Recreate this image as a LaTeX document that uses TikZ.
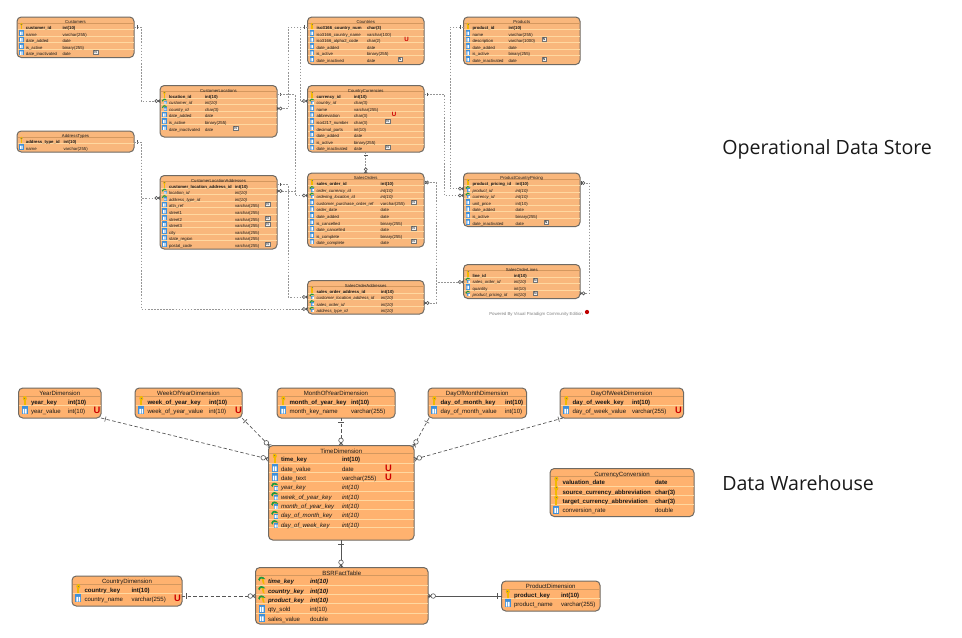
\documentclass[tikz,border=0pt]{standalone}
\usepackage{fontspec}
\setmainfont{Liberation Sans}
\newfontfamily\lblfont{Open Sans}
\usetikzlibrary{calc}
\pgfdeclarelayer{boxes}
\pgfdeclarelayer{lines}
\pgfsetlayers{boxes,lines,main}
\AtBeginDocument{\catcode`\_=12 }
\definecolor{topfill}{HTML}{F9B77C}
\definecolor{botfill}{HTML}{FFB26F}
\definecolor{bordc}{HTML}{6F6A63}
\definecolor{rowc}{HTML}{FFD8A0}
\definecolor{sepc}{HTML}{D4985F}
\definecolor{markc}{HTML}{555555}
\definecolor{relc}{HTML}{969696}
\definecolor{keyc}{HTML}{F2B900}
\definecolor{colc}{HTML}{3F8FD8}
\definecolor{fkc}{HTML}{1E9A3C}
\tikzset{
  tblbox/.style={draw=bordc,line width=0.75,rounded corners=3.2,inner sep=0,outer sep=0},
  rowline/.style={draw=rowc,line width=0.45},
  sepline/.style={draw=sepc,line width=0.45},
  cell/.style={anchor=mid west,inner sep=0,outer sep=0,text=black!90},
  titletext/.style={anchor=mid,inner sep=0,outer sep=0,text=black!90},
  flagU/.style={inner sep=0,text=red!80!black,font=\fontsize{\usize}{\usize}\selectfont\bfseries},
  flagN/.style={inner sep=0,draw=black!55,fill=black!6,line width=0.3,minimum size=\nsize,font=\fontsize{\nfont}{\nfont}\selectfont},
  toprel/.style={draw=relc,line width=0.42,dash pattern=on 1.2 off 1.1},
  botrel/.style={draw=markc,line width=0.5,dash pattern=on 2.6 off 1.7},
  botsolid/.style={draw=markc,line width=0.6},
  mstart/.style={pos=0,sloped,allow upside down},
  mend/.style={pos=1,sloped,allow upside down},
  tm/.style={scale=0.68},
  markline/.style={solid,draw=markc,line width=0.45},
  pics/barS/.style={code={\draw[markline] (4.5,-2.6) -- (4.5,2.6);}},
  pics/oneZeroS/.style={code={
    \draw[markline] (2,-2.6) -- (2,2.6);
    \draw[markline,fill=white] (5,0) circle (2.3);}},
  pics/crowE/.style={code={
    \draw[markline] (0,-2.2) -- (-3,0) -- (0,2.2) (0,0) -- (-3,0);
    \draw[markline,fill=white] (-5.2,0) circle (2.3);}},
  pics/ick/.style={code={
    \fill[keyc] (-0.9,-1) rectangle (0.9,4.6);
    \fill[keyc] (0,-2.4) ellipse (2 and 2.4);
    \fill[black!55] (-0.5,-3.3) rectangle (0.5,-2.5);}},
  pics/icc/.style={code={
    \fill[colc] (-3,-3.8) rectangle (3,4.2);
    \fill[white] (-1.9,-1.4) rectangle (-0.4,3.4) (0.4,-1.4) rectangle (1.9,3.4);}},
  pics/icf/.style={code={
    \fill[colc] (-1,-0.8) rectangle (3.6,4.4);
    \fill[white] (-0.2,0.8) rectangle (1,3.8) (1.6,0.8) rectangle (2.8,3.8);
    \fill[fkc] (-3.6,-0.8) .. controls (-2.6,-4.4) and (1,-4.6) .. (3.6,-1.2) -- (1.6,-1.4) .. controls (0,-2.4) and (-1.8,-2.2) .. (-2.3,0.8) -- cycle;}},
  pics/icb/.style={code={
    \fill[keyc] (-0.2,-1.6) -- (1.8,-1.6) -- (2.8,4.2) -- (1,3) -- cycle;
    \fill[fkc] (-3.6,-0.8) .. controls (-2.6,-4.4) and (1,-4.6) .. (3.6,-1.2) -- (1.6,-1.4) .. controls (0,-2.4) and (-1.8,-2.2) .. (-2.3,0.8) -- cycle;}},
}
\def\rsk{\bfseries}\def\rsc{}\def\rsf{\itshape}\def\rsb{\bfseries\itshape}
\newcommand\topmode{%
  \gdef\stp{6.6}\gdef\fst{9}\gdef\ttl{3.2}\gdef\sepy{5.8}%
  \gdef\ndx{9}\gdef\idx{4.4}\gdef\icsc{0.7}\gdef\tblfill{topfill}%
  \gdef\rfs{3.2pt}\gdef\usize{4.6pt}\gdef\nsize{3.4pt}\gdef\nfont{2.6pt}}
\newcommand\botmode{%
  \gdef\stp{9.35}\gdef\fst{12.8}\gdef\ttl{4.2}\gdef\sepy{7.8}%
  \gdef\ndx{12.5}\gdef\idx{6.3}\gdef\icsc{1}\gdef\tblfill{botfill}%
  \gdef\rfs{4.55pt}\gdef\usize{7pt}\gdef\nsize{4pt}\gdef\nfont{3pt}}
% name, x1, y1, x2, y2, title, type x
\newcommand\ertbl[7]{%
  \begin{pgfonlayer}{boxes}
  \node[tblbox,fill=\tblfill,minimum width={(#4-#2)*0.75pt},minimum height={(#5-#3)*0.75pt}] (#1) at ({(#2+#4)/2},{(#3+#5)/2}) {};
  \end{pgfonlayer}
  \begin{pgfonlayer}{lines}
  \draw[sepline] ({#2+0.5},{#3+\sepy}) -- ({#4-0.5},{#3+\sepy});
  \end{pgfonlayer}
  \node[titletext,font=\fontsize{\rfs}{\rfs}\selectfont] (#1-title) at ({(#2+#4)/2},{round(#3+\ttl)}) {#6};
  \gdef\tname{#1}\gdef\tX{#2}\gdef\tR{#4}\gdef\tT{#7}\gdef\rowno{0}%
  \pgfmathsetmacro\tmpy{#3+\fst}\global\let\cury\tmpy
}
% kind, name, type, flag, flag x
\newcommand\ertrow[5]{%
  \pgfmathtruncatemacro\tmpn{\rowno+1}\global\let\rowno\tmpn
  \ifnum\rowno>1
    \begin{pgfonlayer}{lines}
    \draw[rowline] ({\tX+0.5},{\cury-\stp/2}) -- ({\tR-0.5},{\cury-\stp/2});
    \end{pgfonlayer}
  \fi
  \pic[scale=\icsc] at ({\tX+\idx},\cury) {ic#1};
  \node[cell,font=\fontsize{\rfs}{\rfs}\selectfont\csname rs#1\endcsname] (\tname-n\rowno) at ({\tX+\ndx},{round(\cury)}) {#2};
  \node[cell,font=\fontsize{\rfs}{\rfs}\selectfont\csname rs#1\endcsname] (\tname-t\rowno) at (\tT,{round(\cury)}) {#3};
  \if\relax\detokenize{#4}\relax\else
    \node[flag#4] (\tname-f\rowno) at (#5,{round(\cury)}) {#4};
  \fi
  \pgfmathsetmacro\tmpy{\cury+\stp}\global\let\cury\tmpy
}
\begin{document}
\begin{tikzpicture}[x=0.75pt,y=-0.75pt]
\useasboundingbox (0,0) rectangle (962,637);
\begin{pgfonlayer}{boxes}
\fill[white] (0,0) rectangle (962,637);
\end{pgfonlayer}
\topmode
\ertbl{Customers}{17}{17}{134}{57.5}{Customers}{62.5}
\ertrow{k}{customer_id}{int(10)}{}{}
\ertrow{c}{name}{varchar(255)}{}{}
\ertrow{c}{date_added}{date}{}{}
\ertrow{c}{is_active}{binary(255)}{}{}
\ertrow{c}{date_inactivated}{date}{N}{95.5}
\ertbl{CustomerLocations}{160}{85.5}{277}{137}{CustomerLocations}{205}
\ertrow{k}{location_id}{int(10)}{}{}
\ertrow{f}{customer_id}{int(10)}{}{}
\ertrow{f}{country_id}{char(3)}{}{}
\ertrow{c}{date_added}{date}{}{}
\ertrow{c}{is_active}{binary(255)}{}{}
\ertrow{c}{date_inactivated}{date}{N}{235.5}
\ertbl{AddressTypes}{17}{131}{134}{152}{AddressTypes}{63.5}
\ertrow{k}{address_type_id}{int(10)}{}{}
\ertrow{c}{name}{varchar(255)}{}{}
\ertbl{CLA}{160}{175.5}{277}{249}{CustomerLocationAddresses}{235}
\ertrow{k}{customer_location_address_id}{int(10)}{}{}
\ertrow{f}{location_id}{int(10)}{}{}
\ertrow{f}{address_type_id}{int(10)}{}{}
\ertrow{c}{attn_ref}{varchar(255)}{N}{267.7}
\ertrow{c}{street1}{varchar(255)}{}{}
\ertrow{c}{street2}{varchar(255)}{N}{267.7}
\ertrow{c}{street3}{varchar(255)}{N}{267.7}
\ertrow{c}{city}{varchar(255)}{}{}
\ertrow{c}{state_region}{varchar(255)}{}{}
\ertrow{c}{postal_code}{varchar(255)}{N}{267.7}
\ertbl{Countries}{307.5}{17}{424}{64.5}{Countries}{367}
\ertrow{k}{iso3166_country_num}{char(3)}{}{}
\ertrow{c}{iso3166_country_name}{varchar(100)}{}{}
\ertrow{c}{iso3166_alpha2_code}{char(2)}{U}{406.5}
\ertrow{c}{date_added}{date}{}{}
\ertrow{c}{is_active}{binary(255)}{}{}
\ertrow{c}{date_inactived}{date}{N}{400}
\ertbl{CountryCurrencies}{307.5}{85.5}{424}{152}{CountryCurrencies}{354}
\ertrow{k}{currency_id}{int(10)}{}{}
\ertrow{f}{country_id}{char(3)}{}{}
\ertrow{c}{name}{varchar(255)}{}{}
\ertrow{c}{abbreviation}{char(3)}{U}{394}
\ertrow{c}{iso4217_number}{char(3)}{N}{387.5}
\ertrow{c}{decimal_parts}{int(10)}{}{}
\ertrow{c}{date_added}{date}{}{}
\ertrow{c}{is_active}{binary(255)}{}{}
\ertrow{c}{date_inactivated}{date}{N}{387.5}
\ertbl{SalesOrders}{307.5}{173}{424}{247}{SalesOrders}{380.7}
\ertrow{k}{sales_order_id}{int(10)}{}{}
\ertrow{f}{order_currency_id}{int(10)}{}{}
\ertrow{f}{ordering_location_id}{int(10)}{}{}
\ertrow{c}{customer_purchase_order_ref}{varchar(255)}{N}{413.5}
\ertrow{c}{order_date}{date}{}{}
\ertrow{c}{date_added}{date}{}{}
\ertrow{c}{is_cancelled}{binary(255)}{}{}
\ertrow{c}{date_cancelled}{date}{N}{413.5}
\ertrow{c}{is_complete}{binary(255)}{}{}
\ertrow{c}{date_complete}{date}{N}{413.5}
\ertbl{SOA}{307.5}{280.5}{424}{314}{SalesOrderAddresses}{381}
\ertrow{k}{sales_order_address_id}{int(10)}{}{}
\ertrow{f}{customer_location_address_id}{int(10)}{}{}
\ertrow{f}{sales_order_id}{int(10)}{}{}
\ertrow{f}{address_type_id}{int(10)}{}{}
\ertbl{Products}{463.5}{17}{580}{64.5}{Products}{508.5}
\ertrow{k}{product_id}{int(10)}{}{}
\ertrow{c}{name}{varchar(255)}{}{}
\ertrow{c}{description}{varchar(1000)}{N}{544}
\ertrow{c}{date_added}{date}{}{}
\ertrow{c}{is_active}{binary(255)}{}{}
\ertrow{c}{date_inactivated}{date}{N}{544}
\ertbl{PCP}{463.5}{173}{580}{226.5}{ProductCountryPricing}{515.7}
\ertrow{k}{product_pricing_id}{int(10)}{}{}
\ertrow{f}{product_id}{int(10)}{}{}
\ertrow{f}{currency_id}{int(10)}{}{}
\ertrow{c}{unit_price}{int(10)}{}{}
\ertrow{c}{date_added}{date}{}{}
\ertrow{c}{is_active}{binary(255)}{}{}
\ertrow{c}{date_inactivated}{date}{N}{546}
\ertbl{SOL}{463.5}{264.5}{580}{298.5}{SalesOrderLines}{514}
\ertrow{k}{line_id}{int(10)}{}{}
\ertrow{f}{sales_order_id}{int(10)}{N}{535.3}
\ertrow{c}{quantity}{int(10)}{}{}
\ertrow{f}{product_pricing_id}{int(10)}{N}{535.3}
\node[inner sep=0,anchor=mid west,text=black!50,font=\fontsize{3.25pt}{3.25pt}\selectfont] (powered) at (489,312) {Powered By Visual Paradigm Community Edition};
\node[circle,inner sep=0,minimum size=3.2pt,fill=red!75!black] (vplogo) at (587,312) {};
\draw[toprel] (Customers.east |- 0,27) -- (141,27) pic[mstart,tm]{barS} -- (141,101) -- (CustomerLocations.west |- 0,101) pic[mend,tm]{crowE};
\draw[toprel] (AddressTypes.east |- 0,142) -- (141,142) pic[mstart,tm]{barS} -- (141,198) -- (CLA.west |- 0,198) pic[mend,tm]{crowE};
\draw[toprel] (AddressTypes.east |- 0,142) -- (141,142) -- (141,309) -- (SOA.west |- 0,309) pic[mend,tm]{crowE};
\draw[toprel] (Countries.west |- 0,27) -- (288,27) pic[mstart,tm]{barS} -- (288,108.5) -- (CustomerLocations.east |- 0,108.5) pic[mend,tm]{crowE};
\draw[toprel] (Countries.west |- 0,27) -- (300,27) -- (300,101) -- (CountryCurrencies.west |- 0,101) pic[mend,tm]{crowE};
\draw[toprel] (CustomerLocations.east |- 0,94.5) -- (295,94.5) pic[mstart,tm]{barS} -- (295,195.5) -- (SalesOrders.west |- 0,195.5) pic[mend,tm]{crowE};
\draw[toprel] (CustomerLocations.east |- 0,94.5) -- (295,94.5) -- (295,191) -- (CLA.east |- 0,191) pic[mend,tm]{crowE};
\draw[toprel] (CLA.east |- 0,184.7) -- (288,184.7) pic[mstart,tm]{barS} -- (288,297) -- (SOA.west |- 0,297) pic[mend,tm]{crowE};
\draw[toprel] (CountryCurrencies.south) -- (SalesOrders.north) pic[mstart,tm]{barS} pic[mend,tm]{crowE};
\draw[toprel] (CountryCurrencies.east |- 0,94.5) -- (444.5,94.5) pic[mstart,tm]{barS} -- (444.5,195.5) -- (PCP.west |- 0,195.5) pic[mend,tm]{crowE};
\draw[toprel] (Products.west |- 0,27) -- (450,27) pic[mstart,tm]{barS} -- (450,188.7) -- (PCP.west |- 0,188.7) pic[mend,tm]{crowE};
\draw[toprel] (SalesOrders.east |- 0,182.5) -- (436.7,182.5) pic[mstart,tm]{oneZeroS} -- (436.7,303) -- (SOA.east |- 0,303) pic[mend,tm]{crowE};
\draw[toprel] (SalesOrders.east |- 0,182.5) -- (436.7,182.5) -- (436.7,282) -- (SOL.west |- 0,282) pic[mend,tm]{crowE};
\draw[toprel] (PCP.east |- 0,183) -- (589.7,183) pic[mstart,tm]{oneZeroS} -- (589.7,293.3) -- (SOL.east |- 0,293.3) pic[mend,tm]{crowE};
% bottom
\botmode
\ertbl{Year}{18.5}{388}{101}{418}{YearDimension}{68}
\ertrow{k}{year_key}{int(10)}{}{}
\ertrow{c}{year_value}{int(10)}{U}{97}
\ertbl{Week}{135}{388}{242}{418}{WeekOfYearDimension}{209}
\ertrow{k}{week_of_year_key}{int(10)}{}{}
\ertrow{c}{week_of_year_value}{int(10)}{U}{238.5}
\ertbl{Month}{277}{388}{395}{418}{MonthOfYearDimension}{351}
\ertrow{k}{month_of_year_key}{int(10)}{}{}
\ertrow{c}{month_key_name}{varchar(255)}{}{}
\ertbl{DayMonth}{428}{388}{526.5}{418}{DayOfMonthDimension}{505}
\ertrow{k}{day_of_month_key}{int(10)}{}{}
\ertrow{c}{day_of_month_value}{int(10)}{}{}
\ertbl{DayWeek}{560}{388}{683.5}{418}{DayOfWeekDimension}{632}
\ertrow{k}{day_of_week_key}{int(10)}{}{}
\ertrow{c}{day_of_week_value}{varchar(255)}{U}{678.5}
\ertbl{Time}{268.5}{445.5}{414}{540}{TimeDimension}{342}
\ertrow{k}{time_key}{int(10)}{}{}
\ertrow{c}{date_value}{date}{U}{388.5}
\ertrow{c}{date_text}{varchar(255)}{U}{388.5}
\ertrow{f}{year_key}{int(10)}{}{}
\ertrow{f}{week_of_year_key}{int(10)}{}{}
\ertrow{f}{month_of_year_key}{int(10)}{}{}
\ertrow{f}{day_of_month_key}{int(10)}{}{}
\ertrow{f}{day_of_week_key}{int(10)}{}{}
\begin{pgfonlayer}{lines}
\draw[rowline] (269,527.7) -- (413.5,527.7);
\end{pgfonlayer}
\ertbl{Currency}{550}{468.5}{694}{516.5}{CurrencyConversion}{655}
\ertrow{k}{valuation_date}{date}{}{}
\ertrow{k}{source_currency_abbreviation}{char(3)}{}{}
\ertrow{k}{target_currency_abbreviation}{char(3)}{}{}
\ertrow{c}{conversion_rate}{double}{}{}
\ertbl{Fact}{255.5}{567.5}{428}{624}{BSRFactTable}{310}
\ertrow{b}{time_key}{int(10)}{}{}
\ertrow{b}{country_key}{int(10)}{}{}
\ertrow{b}{product_key}{int(10)}{}{}
\ertrow{c}{qty_sold}{int(10)}{}{}
\ertrow{c}{sales_value}{double}{}{}
\ertbl{CountryDim}{72}{576}{182}{606}{CountryDimension}{131.5}
\ertrow{k}{country_key}{int(10)}{}{}
\ertrow{c}{country_name}{varchar(255)}{U}{177.5}
\ertbl{ProductDim}{501.5}{581}{600}{611}{ProductDimension}{561}
\ertrow{k}{product_key}{int(10)}{}{}
\ertrow{c}{product_name}{varchar(255)}{}{}
\draw[botrel] (Year.south east) -- (268.3,459) pic[mstart]{barS} pic[mend]{crowE};
\draw[botrel] (Week.south east) -- (270,446.5) pic[mstart]{barS} pic[mend]{crowE};
\draw[botrel] (Month.south -| 341,0) -- (Time.north -| 341,0) pic[mstart]{barS} pic[mend]{crowE};
\draw[botrel] (429,418) -- (413.5,446.5) pic[mstart]{barS} pic[mend]{crowE};
\draw[botrel] (563,418) -- (414.3,459.3) pic[mstart]{barS} pic[mend]{crowE};
\draw[botsolid] (Time.south -| 341,0) -- (Fact.north -| 341,0) pic[mstart]{barS} pic[mend]{crowE};
\draw[botrel] (CountryDim.east |- 0,596) -- (Fact.west |- 0,596) pic[mstart]{barS} pic[mend]{crowE};
\draw[botsolid] (ProductDim.west |- 0,596) -- (Fact.east |- 0,596) pic[mstart]{barS} pic[mend]{crowE};
\node[anchor=mid west,inner sep=0,text=black!90,font=\lblfont\fontsize{14.7pt}{17pt}\selectfont] (ods) at (722,151) {Operational Data Store};
\node[anchor=mid west,inner sep=0,text=black!90,font=\lblfont\fontsize{14.7pt}{17pt}\selectfont] (dwh) at (722,487) {Data Warehouse};
\end{tikzpicture}
\end{document}
